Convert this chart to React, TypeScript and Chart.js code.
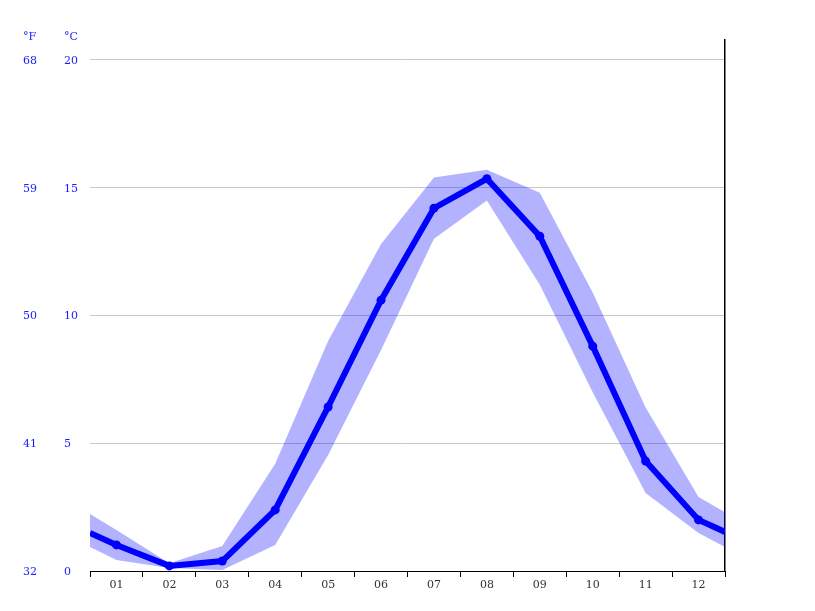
import React, { useRef, useEffect } from "react";
import { Chart, registerables } from "chart.js";

Chart.register(...registerables);

const months = ["01", "02", "03", "04", "05", "06", "07", "08", "09", "10", "11", "12"];
const meanTemp = [1.02, 0.2, 0.39, 2.39, 6.42, 10.6, 14.2, 15.35, 13.1, 8.8, 4.3, 2.0];
const maxTemp = [1.6, 0.3, 0.98, 4.2, 9.0, 12.8, 15.4, 15.7, 14.8, 10.9, 6.4, 2.9];
const minTemp = [0.43, 0.12, 0.04, 1.02, 4.54, 8.65, 13.0, 14.5, 11.2, 7.0, 3.05, 1.49];
// values where the curves meet the left / right edges of the plot
const meanEdges = [1.49, 1.53];
const maxEdges = [2.23, 2.3];
const minEdges = [0.94, 0.94];
const celsiusTicks = [0, 5, 10, 15, 20];

const Y_MAX = 20.78;
const labelFont = "11px 'DejaVu Serif'";
const blue = "#1a1aff";

const toPoints = (values: number[], edges: number[]) => [
  { x: 0.5, y: edges[0] },
  ...values.map((v, i) => ({ x: i + 1, y: v })),
  { x: 12.5, y: edges[1] },
];

const axisLabels = {
  id: "axisLabels",
  afterDraw(chart: Chart) {
    const { ctx } = chart;
    const y = chart.scales.y;
    ctx.save();
    ctx.font = labelFont;
    ctx.fillStyle = blue;
    ctx.textAlign = "left";
    ctx.textBaseline = "middle";
    ctx.fillText("°F", 23, 37);
    ctx.fillText("°C", 64, 37);
    celsiusTicks.forEach((c) => {
      const py = y.getPixelForValue(c) + 1;
      ctx.fillText(String(Math.round(32 + c * 1.8)), 23, py);
      ctx.fillText(String(c), 64, py);
    });
    ctx.restore();
  },
};

const TempChart = () => {
  const chartRef = useRef<HTMLCanvasElement>(null);
  const chartInstanceRef = useRef<Chart | null>(null);

  useEffect(() => {
    if (!chartRef.current) return;
    const context = chartRef.current.getContext("2d");
    if (!context) return;

    chartInstanceRef.current = new Chart(context, {
      type: "line",
      data: {
        datasets: [
          {
            label: "mean",
            data: toPoints(meanTemp, meanEdges),
            borderColor: "#0000ff",
            backgroundColor: "#0000ff",
            borderWidth: 6,
            pointRadius: (c: any) => (c.raw && c.raw.x % 1 === 0 ? 4.5 : 0),
            pointBorderWidth: 0,
            fill: false,
          },
          {
            label: "max",
            data: toPoints(maxTemp, maxEdges),
            borderWidth: 0,
            pointRadius: 0,
            backgroundColor: "rgba(0, 0, 255, 0.3)",
            fill: "+1",
          },
          {
            label: "min",
            data: toPoints(minTemp, minEdges),
            borderWidth: 0,
            pointRadius: 0,
            fill: false,
          },
        ],
      },
      options: {
        animation: false,
        responsive: true,
        maintainAspectRatio: false,
        layout: { padding: { top: 40, left: 0, right: 0, bottom: 0 } },
        plugins: {
          legend: { display: false },
          tooltip: { enabled: false },
        },
        scales: {
          x: {
            type: "linear",
            min: 0.5,
            max: 12.5,
            afterBuildTicks: (scale: any) => {
              const ticks = [];
              for (let v = 0.5; v <= 12.5; v += 0.5) ticks.push({ value: v });
              scale.ticks = ticks;
            },
            afterFit: (scale: any) => {
              scale.height = 40;
            },
            ticks: {
              autoSkip: false,
              maxRotation: 0,
              padding: 2,
              color: "#333",
              font: { family: "'DejaVu Serif'", size: 11 },
              callback: (v: any) => (Number(v) % 1 === 0 ? months[Number(v) - 1] : ""),
            },
            grid: {
              drawOnChartArea: false,
              tickLength: 6,
              tickColor: (c: any) => (c.tick && c.tick.value % 1 !== 0 ? "#000" : "rgba(0,0,0,0)"),
            },
            border: { display: true, color: "#000", width: 1 },
          },
          y: {
            position: "left",
            min: 0,
            max: Y_MAX,
            afterBuildTicks: (scale: any) => {
              scale.ticks = celsiusTicks.map((v) => ({ value: v }));
            },
            afterFit: (scale: any) => {
              scale.width = 90;
            },
            ticks: { display: false },
            grid: { color: "#c8c8c8", lineWidth: 1, drawTicks: false },
            border: { display: false },
          },
          yRight: {
            position: "right",
            min: 0,
            max: Y_MAX,
            afterFit: (scale: any) => {
              scale.width = 90;
            },
            ticks: { display: false },
            grid: { display: false, drawTicks: false },
            border: { display: true, color: "#000", width: 1.5 },
          },
        },
      },
      plugins: [axisLabels],
    } as any);

    return () => {
      if (chartInstanceRef.current) {
        chartInstanceRef.current.destroy();
      }
    };
  }, []);

  return (
    <div style={{ position: "absolute", left: 0, top: 0, width: 815, height: 611, background: "#fff" }}>
      <canvas ref={chartRef}></canvas>
    </div>
  );
};

export default function App() {
  return <TempChart />;
}
